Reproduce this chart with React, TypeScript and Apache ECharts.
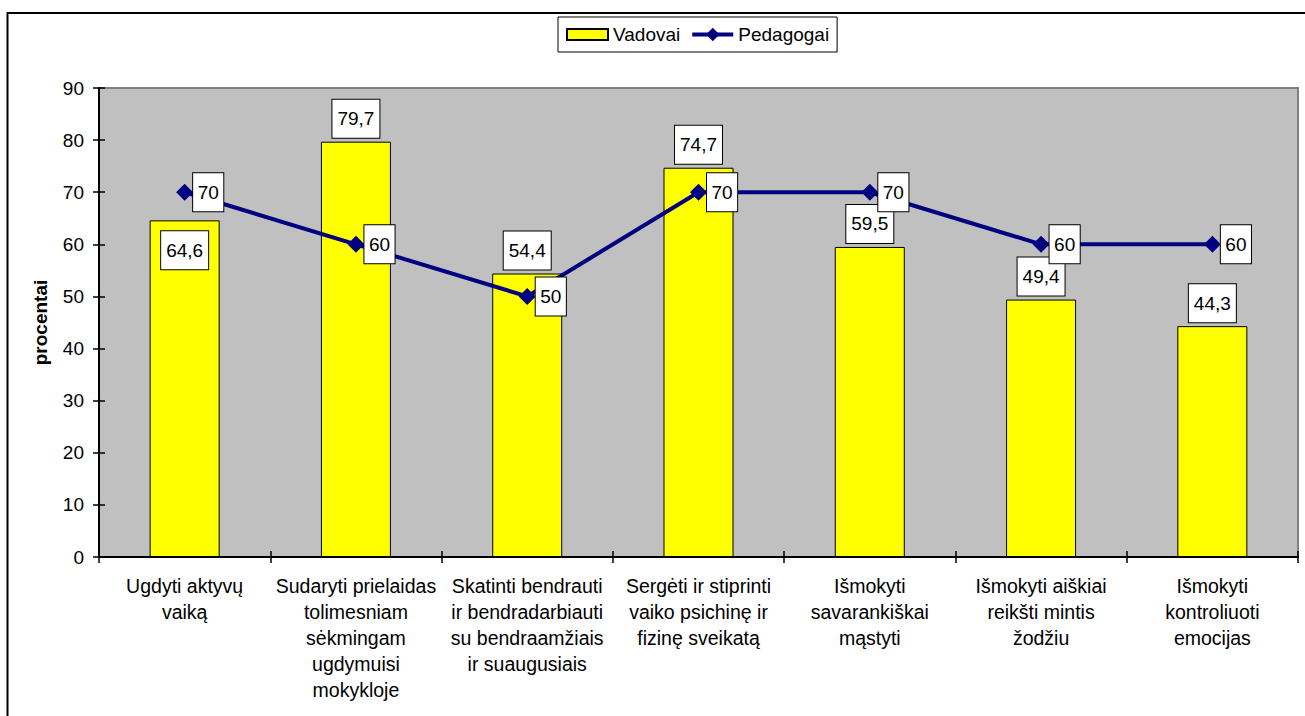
import React, { useEffect, useRef } from "react";
import * as echarts from "echarts";

const categories = [
  "Ugdyti aktyvų\nvaiką",
  "Sudaryti prielaidas\ntolimesniam\nsėkmingam\nugdymuisi\nmokykloje",
  "Skatinti bendrauti\nir bendradarbiauti\nsu bendraamžiais\nir suaugusiais",
  "Sergėti ir stiprinti\nvaiko psichinę ir\nfizinę sveikatą",
  "Išmokyti\nsavarankiškai\nmąstyti",
  "Išmokyti aiškiai\nreikšti mintis\nžodžiu",
  "Išmokyti\nkontroliuoti\nemocijas",
];
const vadovai = [64.6, 79.7, 54.4, 74.7, 59.5, 49.4, 44.3];
const pedagogai = [70, 60, 50, 70, 70, 60, 60];
const yMin = 0;
const yMax = 90;
const yStep = 10;
const yAxisName = "procentai";
const seriesNames = ["Vadovai", "Pedagogai"];

const FONT = "'Liberation Sans', Arial, sans-serif";

const fmt = (v: number) => String(v).replace(".", ",");

const boxLabel = {
  show: true,
  color: "#000",
  fontFamily: FONT,
  fontSize: 19,
  lineHeight: 20,
  backgroundColor: "#fff",
  borderColor: "#000",
  borderWidth: 1,
  padding: [9, 5, 9, 5],
};

export default function App() {
  const ref = useRef<HTMLDivElement>(null);
  useEffect(() => {
    document.body.style.margin = "0";
    const chart = echarts.init(ref.current!, null, { renderer: "svg" });
    chart.setOption({
      animation: false,
      backgroundColor: "#fff",
      textStyle: { fontFamily: FONT, color: "#000" },
      graphic: [
        {
          type: "rect",
          shape: { x: 7.5, y: 13, width: 3000, height: 3000 },
          style: { fill: "none", stroke: "#000", lineWidth: 2 },
          z: 100,
        },
      ],
      legend: {
        left: 558,
        top: 17,
        orient: "horizontal",
        borderColor: "#000",
        borderWidth: 1,
        padding: [8, 8, 8, 8],
        itemWidth: 41,
        itemHeight: 17,
        itemGap: 10,
        textStyle: { fontFamily: FONT, fontSize: 19, color: "#000" },
        data: [
          { name: seriesNames[0], icon: "path://M0,0H41V11H0Z" },
          { name: seriesNames[1], lineStyle: { width: 4, color: "#000080" } },
        ],
      },
      grid: {
        left: 99,
        right: 7,
        top: 88,
        bottom: 159,
        show: true,
        backgroundColor: "#C0C0C0",
        borderColor: "#808080",
        borderWidth: 2,
        containLabel: false,
        outerBoundsMode: "none",
      },
      xAxis: [
        {
          type: "category",
          data: categories,
          boundaryGap: true,
          axisLine: { show: true, lineStyle: { color: "#000", width: 2 } },
          axisTick: { show: true, inside: false, length: 6, alignWithLabel: false, lineStyle: { color: "#000", width: 1.5 } },
          axisLabel: {
            interval: 0,
            margin: 16,
            color: "#000",
            fontFamily: FONT,
            fontSize: 19.5,
            lineHeight: 26,
            align: "center",
          },
          splitLine: { show: false },
          z: 10,
        },
        {
          type: "category",
          data: categories,
          boundaryGap: true,
          position: "bottom",
          axisLine: { show: false },
          axisTick: { show: true, inside: true, length: 6, lineStyle: { color: "#000", width: 1.5 } },
          axisLabel: { show: false },
          splitLine: { show: false },
          z: 10,
        },
      ],
      yAxis: [
        {
          type: "value",
          min: yMin,
          max: yMax,
          interval: yStep,
          name: yAxisName,
          nameLocation: "middle",
          nameGap: 49,
          nameTextStyle: { fontFamily: FONT, fontSize: 19, fontWeight: "bold", color: "#000" },
          axisLine: { show: true, lineStyle: { color: "#000", width: 2 } },
          axisTick: { show: true, inside: false, length: 6, lineStyle: { color: "#000", width: 1.5 } },
          axisLabel: { margin: 15, color: "#000", fontFamily: FONT, fontSize: 19 },
          splitLine: { show: false },
          z: 10,
        },
        {
          type: "value",
          min: yMin,
          max: yMax,
          interval: yStep,
          position: "left",
          axisLine: { show: false },
          axisTick: { show: true, inside: true, length: 6, lineStyle: { color: "#000", width: 1.5 } },
          axisLabel: { show: false },
          splitLine: { show: false },
          z: 10,
        },
      ],
      series: [
        {
          name: seriesNames[0],
          type: "bar",
          xAxisIndex: 0,
          yAxisIndex: 0,
          barWidth: 70,
          itemStyle: { color: "#FFFF00", borderColor: "#000", borderWidth: 1 },
          label: {
            ...boxLabel,
            position: "top",
            distance: 4,
            formatter: (p: any) => fmt(p.value),
          },
          data: vadovai.map((v, i) =>
            i === 0 ? { value: v, label: { position: "insideTop", distance: 11 } } : v
          ),
          z: 2,
        },
        {
          name: seriesNames[1],
          type: "line",
          xAxisIndex: 0,
          yAxisIndex: 0,
          symbol: "diamond",
          symbolSize: 17,
          lineStyle: { color: "#000080", width: 4 },
          itemStyle: { color: "#000080" },
          label: {
            ...boxLabel,
            padding: [9, 4.5, 9, 4.5],
            position: "right",
            distance: 0,
            formatter: (p: any) => fmt(p.value),
          },
          data: pedagogai,
          z: 3,
        },
      ],
    });
    return () => chart.dispose();
  }, []);
  return <div ref={ref} style={{ width: 1305, height: 716 }} />;
}
